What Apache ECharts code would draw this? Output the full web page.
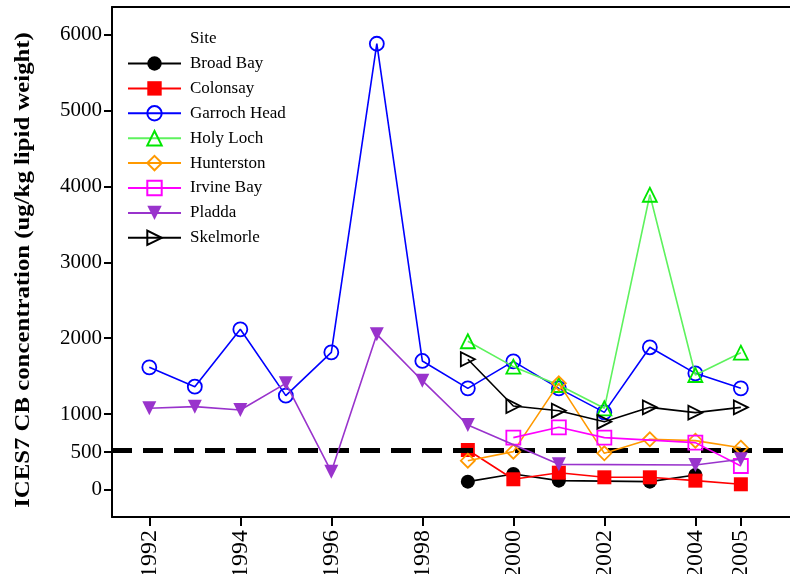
<!DOCTYPE html>
<html>
<head>
<meta charset="utf-8">
<script src="https://cdn.jsdelivr.net/npm/echarts@6/dist/echarts.min.js"></script>
<style>html,body{margin:0;padding:0;background:#fff}#c{width:790px;height:574px}</style>
</head>
<body>
<div id="c"></div>
<script>
const siteNames = ['Broad Bay','Colonsay','Garroch Head','Holy Loch','Hunterston','Irvine Bay','Pladda','Skelmorle'];
const xTickYears = [1992,1994,1996,1998,2000,2002,2004,2005];
const yTickValues = [0,500,1000,2000,3000,4000,5000,6000];
const thresholdValue = 527;
const yTitle = 'ICES7 CB concentration (ug/kg lipid weight)';

const broadBay    = [[1999,110],[2000,211],[2001,123],[2003,110],[2004,198]];
const colonsay    = [[1999,527],[2000,141],[2001,228],[2002,167],[2003,167],[2004,123],[2005,75]];
const garrochHead = [[1992,1616],[1993,1361],[1994,2117],[1995,1243],[1996,1814],[1997,5880],[1998,1700],[1999,1339],[2000,1695],[2001,1339],[2002,1023],[2003,1880],[2004,1537],[2005,1339]];
const holyLoch    = [[1999,1960],[2000,1625],[2001,1383],[2002,1076],[2003,3890],[2004,1515],[2005,1809]];
const hunterston  = [[1999,386],[2000,505],[2001,1405],[2002,483],[2003,668],[2004,650],[2005,557]];
const irvineBay   = [[2000,690],[2001,826],[2002,690],[2004,624],[2005,316]];
const pladda      = [[1992,1076],[1993,1098],[1994,1054],[1995,1405],[1996,241],[1997,2051],[1998,1440],[1999,856],[2001,338],[2004,329],[2005,404]];
const skelmorle   = [[1999,1722],[2000,1107],[2001,1045],[2002,900],[2003,1089],[2004,1019],[2005,1089]];

const serif = 'Liberation Serif';
const styles = [
  {data: broadBay,    line:'#000000', symbol:'circle',   fill:'#000000', rot:0},
  {data: colonsay,    line:'#ff0000', symbol:'rect',     fill:'#ff0000', rot:0},
  {data: garrochHead, line:'#0000ff', symbol:'circle',   fill:'transparent', border:'#0000ff', rot:0},
  {data: holyLoch,    line:'#5ef25e', symbol:'triangle', fill:'transparent', border:'#00e600', rot:0},
  {data: hunterston,  line:'#ff9900', symbol:'diamond',  fill:'transparent', border:'#ff9900', rot:0},
  {data: irvineBay,   line:'#ff00ff', symbol:'rect',     fill:'transparent', border:'#ff00ff', rot:0},
  {data: pladda,      line:'#9933cc', symbol:'triangle', fill:'#9933cc', rot:180},
  {data: skelmorle,   line:'#000000', symbol:'triangle', fill:'transparent', border:'#000000', rot:-90}
];

const series = styles.map((s, i) => ({
  name: siteNames[i],
  type: 'line',
  data: s.data,
  symbol: s.symbol,
  symbolSize: 14,
  symbolRotate: s.rot,
  lineStyle: {color: s.line, width: 1.6},
  itemStyle: {color: s.fill, borderColor: s.border || s.fill, borderWidth: s.border ? 1.8 : 0},
  z: 3 + i
}));
series.push({
  name: 'threshold',
  type: 'line',
  data: [],
  markLine: {
    silent: true,
    symbol: 'none',
    label: {show: false},
    lineStyle: {color: '#000', type: [20, 11], width: 5},
    data: [{yAxis: thresholdValue}]
  }
});

const plain = v => String(v);

const chart = echarts.init(document.getElementById('c'), null, {renderer: 'canvas'});
chart.setOption({
  animation: false,
  backgroundColor: '#fff',
  title: {text: 'Site', left: 185, top: 25, textStyle: {fontFamily: serif, fontSize: 17, fontWeight: 'normal', color: '#000'}},
  legend: {
    data: siteNames,
    orient: 'vertical',
    left: 122, top: 50,
    itemWidth: 53, itemHeight: 18, itemGap: 7.9,
    textStyle: {fontFamily: serif, fontSize: 17, color: '#000', padding: [0, 0, 0, 4]}
  },
  graphic: [{
    type: 'text',
    x: 24, y: 270,
    rotation: Math.PI / 2,
    scaleX: 1.18,
    style: {text: yTitle, font: 'bold 21px "Liberation Serif"', fill: '#000', align: 'center', verticalAlign: 'middle'}
  }],
  grid: {left: 112, top: 7, right: 0, bottom: 57, containLabel: false, outerBoundsMode: 'none'},
  xAxis: [{
    type: 'value', min: 1991.18, max: 2006.08,
    splitLine: {show: false},
    axisLine: {onZero: false, lineStyle: {color: '#000', width: 2}},
    axisTick: {show: true, length: 9, lineStyle: {color: '#000', width: 2}, customValues: xTickYears},
    axisLabel: {customValues: xTickYears, formatter: plain, rotate: 90, fontFamily: serif, fontSize: 24, color: '#000', margin: 13}
  }, {
    type: 'value', position: 'top', min: 1991.18, max: 2006.08,
    splitLine: {show: false}, axisTick: {show: false}, axisLabel: {show: false},
    axisLine: {show: true, onZero: false, lineStyle: {color: '#000', width: 2}}
  }],
  yAxis: {
    type: 'value', min: -356, max: 6364,
    splitLine: {show: false},
    axisLine: {show: true, onZero: false, lineStyle: {color: '#000', width: 2}},
    axisTick: {show: true, length: 8, lineStyle: {color: '#000', width: 2}, customValues: yTickValues},
    axisLabel: {customValues: yTickValues, formatter: plain, fontFamily: serif, fontSize: 21, color: '#000', margin: 10}
  },
  series: series
});
</script>
</body>
</html>
